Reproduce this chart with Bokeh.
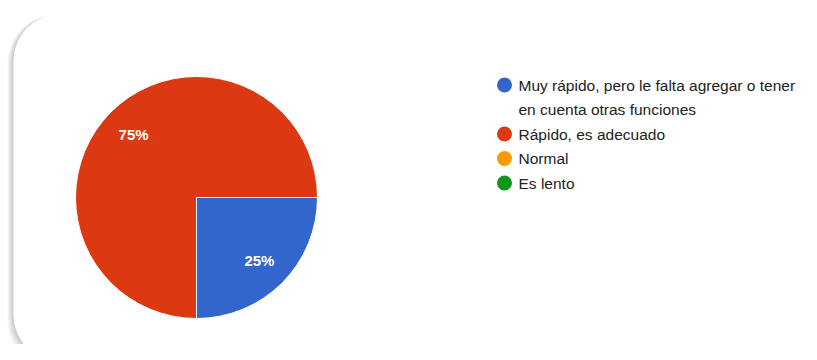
import numpy as np
from bokeh.plotting import figure
from bokeh.models import BoxAnnotation, Range1d, ColumnDataSource
from bokeh.core.properties import value
from bokeh.embed import file_html
from bokeh.resources import INLINE

# ---- data ----
labels = ["Muy rápido, pero le falta agregar o tener\nen cuenta otras funciones",
          "Rápido, es adecuado", "Normal", "Es lento"]
counts = [1, 3, 0, 0]
colors = ["#3366CC", "#DC3912", "#FF9900", "#109618"]

# ---- layout (pixels) ----
W, H = 801, 344
cx, cy, R = 196, 147, 121
label_r = 89
legend_x, legend_y0, line_step = 504, 259.5, 24.5

p = figure(width=W, height=H, x_range=Range1d(0, W), y_range=Range1d(0, H),
           output_backend="svg", toolbar_location=None, min_border=0)
p.axis.visible = False
p.grid.visible = False
p.outline_line_color = None
p.background_fill_color = "white"
p.border_fill_color = "white"

# card shadow + card
for k in range(1, 7):
    p.add_layout(BoxAnnotation(left=13 - k, right=822 - k, top=331 - k * 0.3, bottom=-18 - k,
                               fill_color="black", fill_alpha=0.035, line_color=None,
                               border_radius=48, level="underlay"))
p.add_layout(BoxAnnotation(left=13, right=822, top=331, bottom=-18, fill_color="white",
                           fill_alpha=1, line_color=None, border_radius=48, level="underlay"))

# pie
vals = np.array(counts, dtype=float)
frac = vals / vals.sum()
ends = -np.pi / 2 + np.cumsum(frac) * 2 * np.pi
starts = ends - frac * 2 * np.pi
nz = frac > 0
src = ColumnDataSource(dict(start=starts[nz], end=ends[nz], color=np.array(colors)[nz]))
p.wedge(x=cx, y=cy, radius=R, start_angle="start", end_angle="end", fill_color="color",
        line_color="white", line_width=1, source=src)

mid = (starts + ends) / 2
pct = [f"{round(f * 100)}%" for f in frac[nz]]
p.text(x=cx + label_r * np.cos(mid[nz]), y=cy + label_r * np.sin(mid[nz]), text=pct,
       text_color="white", text_font=value("Liberation Sans"), text_font_size="15px",
       text_font_style="bold", text_align="center", text_baseline="middle")

# legend
lx, ly, lt, cy_list, ccol = [], [], [], [], []
row = 0
for lab, col in zip(labels, colors):
    lines = lab.split("\n")
    cy_list.append(legend_y0 - row * line_step)
    ccol.append(col)
    for ln in lines:
        lx.append(legend_x + 14)
        ly.append(legend_y0 - row * line_step)
        lt.append(ln)
        row += 1
p.scatter(x=[legend_x] * len(cy_list), y=cy_list, size=15, marker="circle",
          fill_color=ccol, line_color=None)
p.text(x=lx, y=ly, text=lt, text_color="#222222", text_font=value("Liberation Sans"),
       text_font_size="15.5px", text_baseline="middle", text_align="left")

open("out.html", "w").write(file_html(p, INLINE))
